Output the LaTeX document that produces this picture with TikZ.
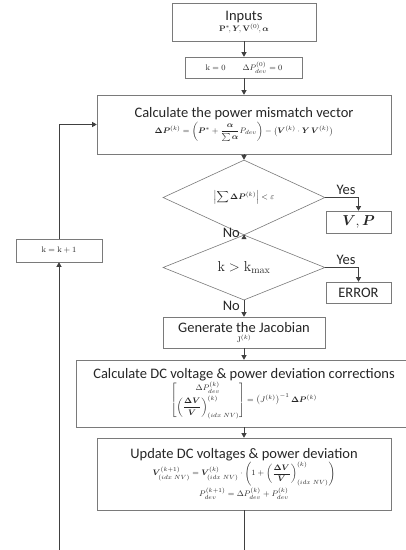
\documentclass[tikz,border=0pt]{standalone}
\usepackage[no-math]{fontspec}
\setmainfont{Carlito}
\usepackage{amsmath,bm}
\usetikzlibrary{shapes.geometric,arrows.meta,shadows}
\definecolor{ln}{HTML}{404040}
\definecolor{bx}{HTML}{7A7A7A}
\definecolor{tx}{HTML}{262626}
\newcommand\ttlf{\fontsize{14.5}{16}\selectfont}
\newcommand\mthf{\fontsize{8.5}{10.5}\selectfont}
\begin{document}
\begin{tikzpicture}[x=1pt,y=-1pt,
  box/.style={draw=bx, line width=0.6pt, fill=white, text=tx, align=center, inner sep=1pt,
    drop shadow={shadow xshift=0.9pt,shadow yshift=-0.9pt,opacity=0.35,fill=black}},
  dia/.style={draw=bx, line width=0.6pt, fill=white, text=tx, shape=diamond, inner sep=0pt, align=center},
  lbl/.style={text=tx, inner sep=0pt, font=\ttlf},
  arr/.style={draw=ln, line width=0.6pt, -{Triangle[width=5pt,length=4.5pt]}},
  pln/.style={draw=ln, line width=0.6pt}]
\useasboundingbox (0,0) rectangle (406,550);
\fill[white] (0,0) rectangle (406,550);
\clip (0,0) rectangle (406,550);

\node[box, minimum width=144pt, minimum height=38pt] (inp) at (244,22)
  {{\ttlf Inputs}\\[-1pt]{\mthf $\mathbf{P}^{*}\!,\bm{Y}\!,\mathbf{V}^{(0)}\!,\bm{\alpha}$}};
\node[box, minimum width=117pt, minimum height=21pt] (k0) at (244,67.5)
  {\mthf $\mathrm{k}=0\qquad \Delta P_{dev}^{(0)}=0$};
\node[box, minimum width=294pt, minimum height=59pt] (mm) at (244,124.5)
  {{\ttlf Calculate the power mismatch vector}\\[1pt]
   {\mthf $\bm{\Delta P}^{(k)}=\left(\bm{P}^{*}+\dfrac{\bm{\alpha}}{\sum\bm{\alpha}}P_{dev}\right)-\left(\bm{V}^{(k)}\cdot\bm{Y}\,\bm{V}^{(k)}\right)$}};
\node[dia, minimum width=162pt, minimum height=55pt] (d1) at (244,197.5)
  {\mthf $\left|\displaystyle\sum\bm{\Delta P}^{(k)}\right|<\varepsilon$};
\node[box, minimum width=65pt, minimum height=22pt] (vp) at (358.5,222)
  {\fontsize{14}{16}\selectfont $\bm{V},\bm{P}$};
\node[dia, minimum width=162pt, minimum height=57pt] (d2) at (244,267.5)
  {\fontsize{14}{16}\selectfont $\mathrm{k}>\mathrm{k}_{\mathrm{max}}$};
\node[box, minimum width=65pt, minimum height=21pt] (err) at (358.5,292.5)
  {\ttlf ERROR};
\node[box, minimum width=162pt, minimum height=31pt] (jac) at (244,332.5)
  {{\ttlf Generate the Jacobian}\\[-2pt]{\mthf $\mathrm{J}^{(k)}$}};
\node[box, minimum width=336pt, minimum height=67pt] (dc) at (244,393.5)
  {{\ttlf Calculate DC voltage \& power deviation corrections}\\[0pt]
   {\mthf $\begin{bmatrix}\Delta P_{dev}^{(k)}\\[2pt]\left(\dfrac{\bm{\Delta V}}{\bm{V}}\right)^{(k)}_{(idx\;NV)}\end{bmatrix}=\left(J^{(k)}\right)^{-1}\bm{\Delta P}^{(k)}$}};
\node[box, minimum width=294pt, minimum height=72pt] (up) at (244,474)
  {{\ttlf Update DC voltages \& power deviation}\\[0pt]
   {\mthf $\bm{V}^{(k+1)}_{(idx\;NV)}=\bm{V}^{(k)}_{(idx\;NV)}\cdot\left(1+\left(\dfrac{\bm{\Delta V}}{\bm{V}}\right)^{(k)}_{(idx\;NV)}\right)$}\\[1pt]
   {\mthf $P^{(k+1)}_{dev}=\Delta P^{(k)}_{dev}+P^{(k)}_{dev}$}};
\node[box, minimum width=86pt, minimum height=23pt] (kk) at (59,250.5)
  {\mthf $\mathrm{k}=\mathrm{k}+1$};

\node[lbl, anchor=south] (y1) at (346,195) {Yes};
\node[lbl, anchor=south] (y2) at (346,265) {Yes};
\node[lbl, anchor=east] (n1) at (240,233) {No};
\node[lbl, anchor=east] (n2) at (240,306) {No};

\coordinate (br) at (244,552);
\coordinate (bl) at (59,552);

\draw[arr] (inp.south) -- (k0.north);
\draw[arr] (k0.south) -- (mm.north);
\draw[arr] (mm.south) -- (d1.north);
\draw[arr] (d1.east) -| (vp.north);
\draw[arr] (d1.south) -- (d2.north);
\draw[arr] (d2.east) -| (err.north);
\draw[arr] (d2.south) -- (jac.north);
\draw[arr] (jac.south) -- (dc.north);
\draw[arr] (dc.south) -- (up.north);
\draw[pln] (up.south) -- (br);
\draw[arr] (bl) -- (kk.south);
\draw[arr] (kk.north) |- (mm.west);
\end{tikzpicture}
\end{document}
